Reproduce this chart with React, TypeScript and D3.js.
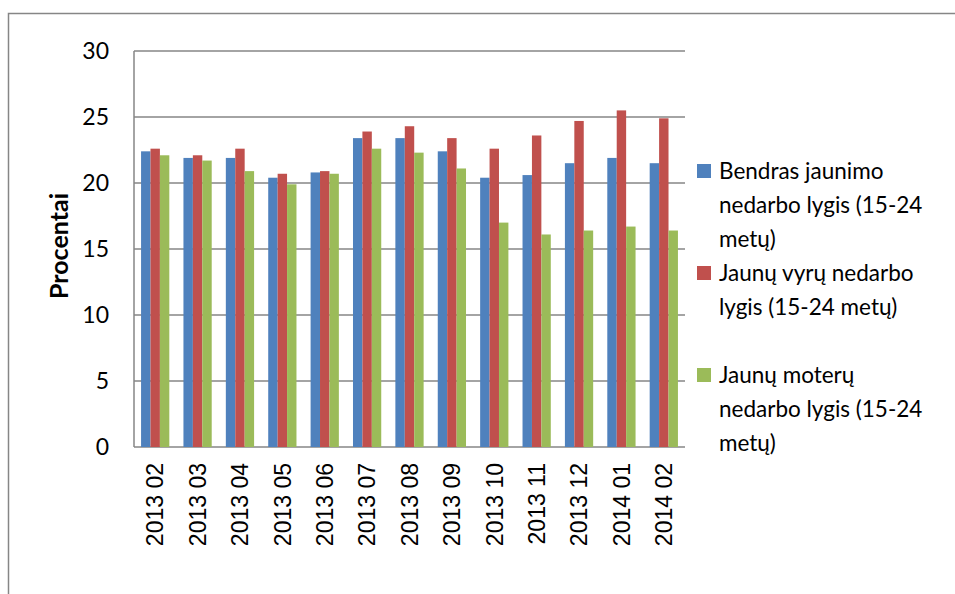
import * as d3 from "d3";

const months = [
  "2013 02", "2013 03", "2013 04", "2013 05", "2013 06", "2013 07", "2013 08",
  "2013 09", "2013 10", "2013 11", "2013 12", "2014 01", "2014 02",
];
const total = [22.4, 21.9, 21.9, 20.4, 20.8, 23.4, 23.4, 22.4, 20.4, 20.6, 21.5, 21.9, 21.5];
const men = [22.6, 22.1, 22.6, 20.7, 20.9, 23.9, 24.3, 23.4, 22.6, 23.6, 24.7, 25.5, 24.9];
const women = [22.1, 21.7, 20.9, 19.9, 20.7, 22.6, 22.3, 21.1, 17.0, 16.1, 16.4, 16.7, 16.4];
const yTicks = [0, 5, 10, 15, 20, 25, 30];

const seriesNames = [
  ["Bendras jaunimo", "nedarbo lygis (15-24", "metų)"],
  ["Jaunų vyrų nedarbo", "lygis (15-24 metų)"],
  ["Jaunų moterų", "nedarbo lygis (15-24", "metų)"],
];
const colors = ["#4F81BD", "#C0504D", "#9BBB59"];
const seriesValues = [total, men, women];

const W = 955;
const H = 594;
const plot = { left: 134, right: 685, top: 51, bottom: 447 };
const calibri = "Lato, 'Open Sans', sans-serif";

export default function App() {
  const x = d3.scaleBand().domain(months).range([plot.left, plot.right]).paddingInner(0).paddingOuter(0);
  const gap = 1.5; // gap width 150% of a bar
  const barW = x.bandwidth() / (3 + gap);
  const y = d3.scaleLinear().domain([0, 30]).range([plot.bottom, plot.top]);

  return (
    <svg
      width={W}
      height={H}
      style={{ position: "absolute", left: 0, top: 0, background: "#fff" }}
    >
      {/* outer chart border */}
      <rect x={8.5} y={13.5} width={W} height={H} fill="none" stroke="#868686" strokeWidth={1.5} />

      {/* gridlines */}
      {yTicks.map((t) => (
        <line
          key={t}
          x1={plot.left}
          x2={plot.right}
          y1={y(t)}
          y2={y(t)}
          stroke="#868686"
          strokeWidth={1.5}
        />
      ))}
      <line x1={plot.left} x2={plot.left} y1={plot.top} y2={plot.bottom} stroke="#868686" strokeWidth={1.5} />

      {/* bars */}
      {seriesValues.map((vals, si) =>
        vals.map((v, i) => (
          <rect
            key={`${si}-${i}`}
            x={(x(months[i]) ?? 0) + (gap / 2) * barW + si * barW}
            y={y(v)}
            width={barW}
            height={y(0) - y(v)}
            fill={colors[si]}
          />
        ))
      )}

      {/* y tick labels */}
      {yTicks.map((t) => (
        <text
          key={t}
          x={109}
          y={y(t)}
          dy="0.36em"
          textAnchor="end"
          fontFamily={calibri}
          fontSize={23}
          fill="#000"
        >
          {t}
        </text>
      ))}

      {/* x labels */}
      {months.map((m) => (
        <text
          key={m}
          transform={`translate(${(x(m) ?? 0) + x.bandwidth() / 2},463) rotate(-90)`}
          dy="0.36em"
          textAnchor="end"
          fontFamily="'Liberation Sans', Arial, sans-serif"
          fontSize={23}
          fill="#000"
        >
          {m}
        </text>
      ))}

      {/* y axis title */}
      <text
        transform={`translate(68,246) rotate(-90)`}
        textAnchor="middle"
        fontFamily={calibri}
        fontWeight="bold"
        fontSize={25}
        fill="#000"
      >
        Procentai
      </text>

      {/* legend */}
      {seriesNames.map((lines, si) => {
        const base = 179 + si * 102;
        return (
          <g key={si}>
            <rect x={697} y={base - 15} width={14} height={14} fill={colors[si]} />
            {lines.map((ln, li) => (
              <text
                key={li}
                x={719}
                y={base + li * 34}
                fontFamily={calibri}
                fontSize={22.5}
                fill="#000"
              >
                {ln}
              </text>
            ))}
          </g>
        );
      })}
    </svg>
  );
}
